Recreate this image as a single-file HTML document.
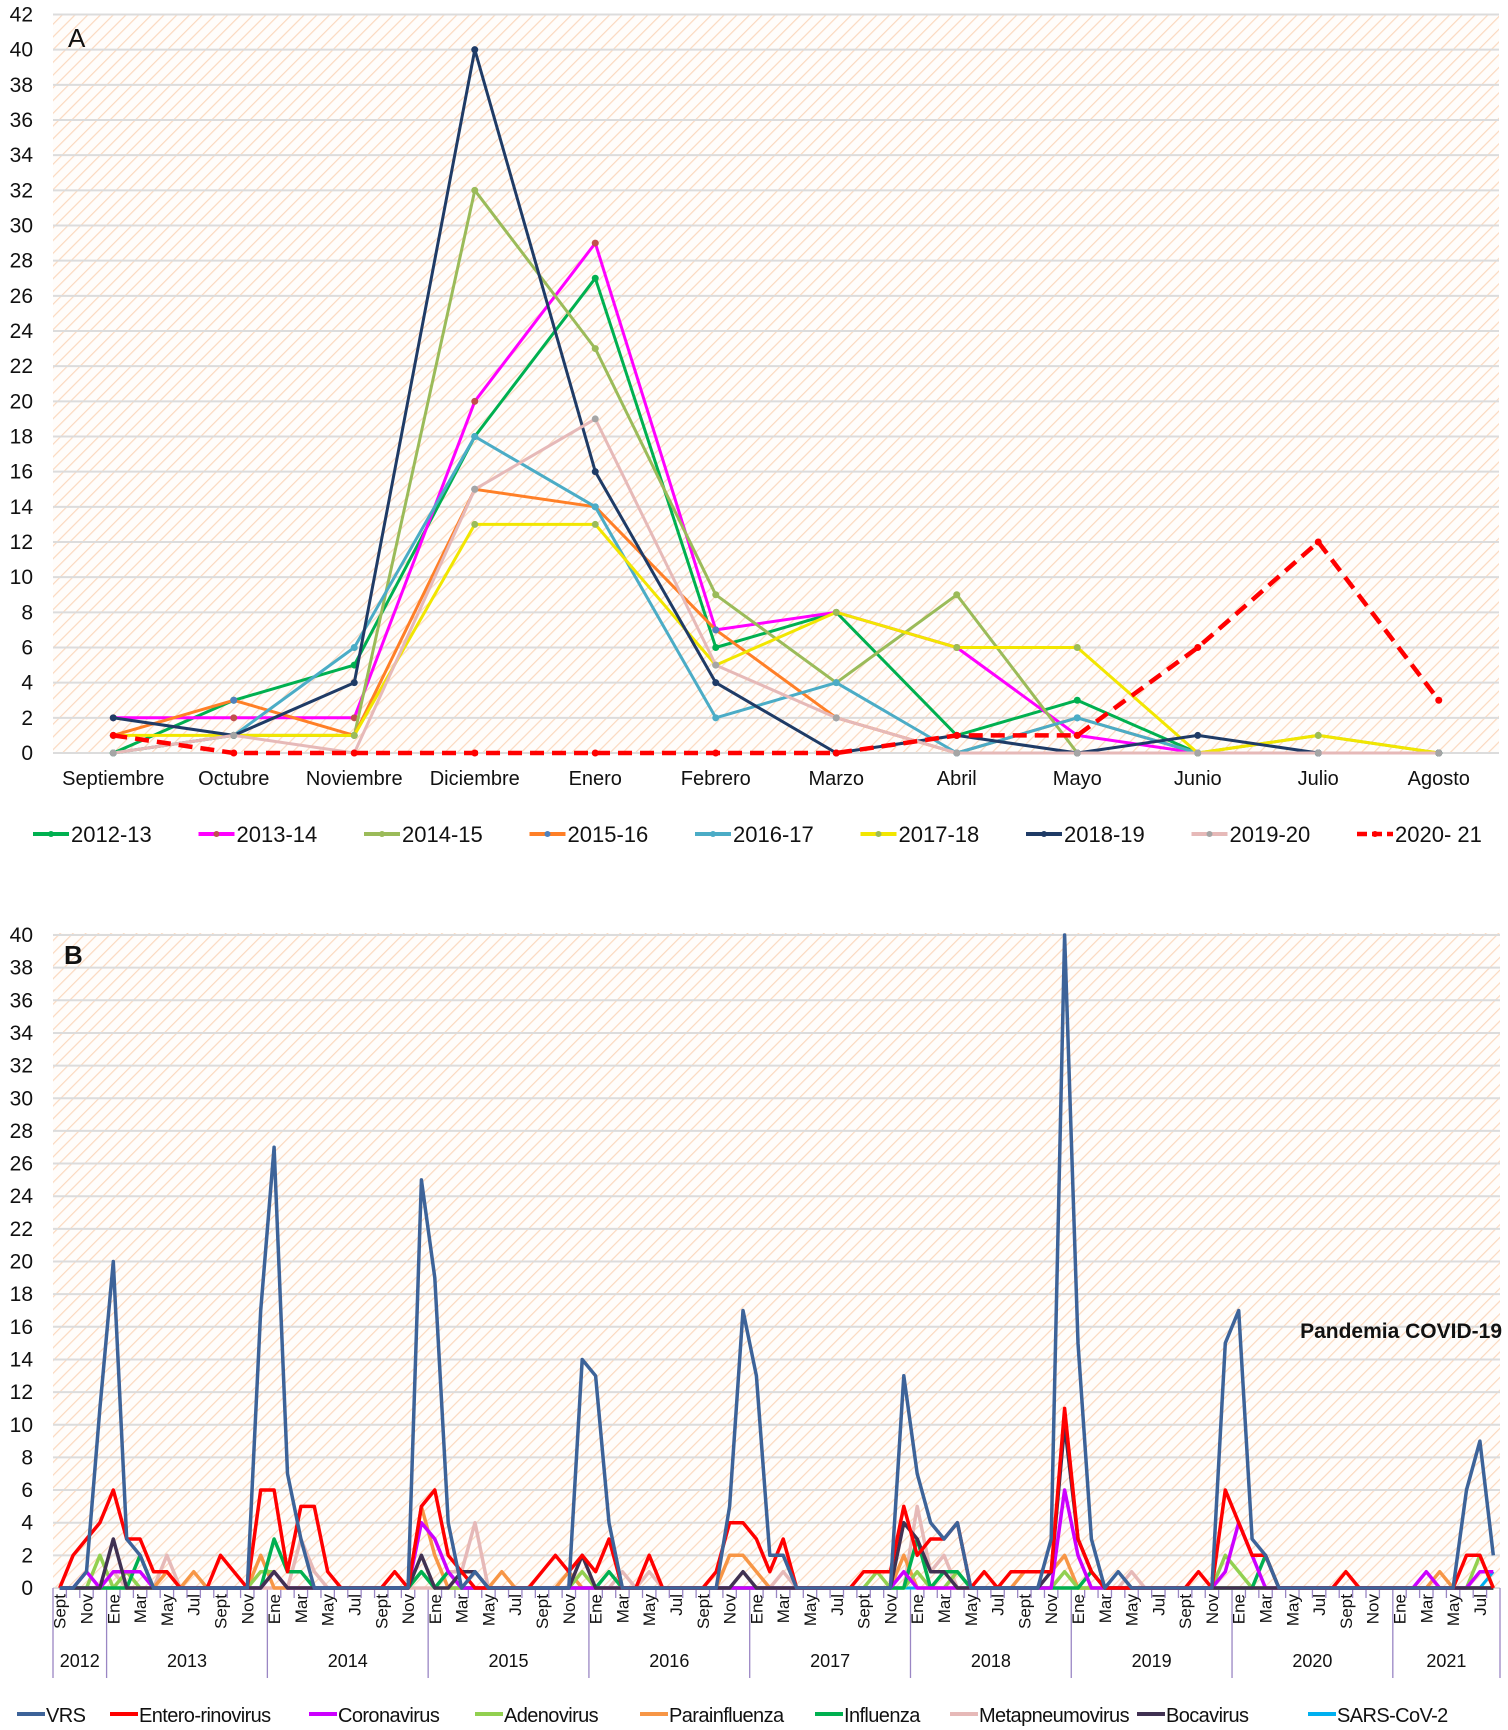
<!DOCTYPE html>
<html><head><meta charset="utf-8">
<style>
html,body{margin:0;padding:0;background:#fff;}
svg{display:block;font-family:"Liberation Sans",Arial,sans-serif;}
</style></head>
<body>
<svg id="chart" width="1508" height="1730" viewBox="0 0 1508 1730" xmlns="http://www.w3.org/2000/svg">
<defs>
<pattern id="hatch" patternUnits="userSpaceOnUse" width="9" height="9" patternTransform="rotate(45)">
<rect width="9" height="9" fill="#fffdfb"/>
<line x1="0" y1="0" x2="0" y2="9" stroke="#fbd9bf" stroke-width="2.4"/>
</pattern>
</defs>
<g id="panelA"></g>
<g id="panelB"></g>
</svg>
<script>
// ---------- Panel A data ----------
const monthsA = ["Septiembre","Octubre","Noviembre","Diciembre","Enero","Febrero","Marzo","Abril","Mayo","Junio","Julio","Agosto"];
const seasonsA = ["2012-13","2013-14","2014-15","2015-16","2016-17","2017-18","2018-19","2019-20","2020- 21"];
const s2012_13 = [0,3,5,18,27,6,8,1,3,0,0,0];
const s2013_14 = [2,2,2,20,29,7,8,6,1,0,0,0];
const s2014_15 = [0,1,1,32,23,9,4,9,0,0,1,0];
const s2015_16 = [1,3,1,15,14,7,2,0,2,0,0,0];
const s2016_17 = [0,1,6,18,14,2,4,0,2,0,0,0];
const s2017_18 = [1,1,1,13,13,5,8,6,6,0,1,0];
const s2018_19 = [2,1,4,40,16,4,0,1,0,1,0,0];
const s2019_20 = [0,1,0,15,19,5,2,0,0,0,0,0];
const s2020_21 = [1,0,0,0,0,0,0,1,1,6,12,3];
const ticksA = [0,2,4,6,8,10,12,14,16,18,20,22,24,26,28,30,32,34,36,38,40,42];

// ---------- Panel B data (monthly, Sept 2012 .. Aug 2021; 12 per row = Sept..Aug) ----------
const monthLabelsB = ["Sept","Nov","Ene","Mar","May","Jul"];
const yearsB = ["2012","2013","2014","2015","2016","2017","2018","2019","2020","2021"];
const virusesB = ["VRS","Entero-rinovirus","Coronavirus","Adenovirus","Parainfluenza","Influenza","Metapneumovirus","Bocavirus","SARS-CoV-2"];
const ticksB = [0,2,4,6,8,10,12,14,16,18,20,22,24,26,28,30,32,34,36,38,40];
const vrs = [0,0,1,11,20,3,2,0,0,0,0,0,
 0,0,0,17,27,7,3,0,0,0,0,0,
 0,0,0,25,19,4,0,1,0,0,0,0,
 0,0,0,14,13,4,0,0,0,0,0,0,
 0,0,5,17,13,2,2,0,0,0,0,0,
 0,0,0,13,7,4,3,4,0,0,0,0,
 0,0,3,40,15,3,0,1,0,0,0,0,
 0,0,0,15,17,3,2,0,0,0,0,0,
 0,0,0,0,0,0,0,0,0,6,9,2];
const entero = [0,2,3,4,6,3,3,1,1,0,0,0,
 2,1,0,6,6,1,5,5,1,0,0,0,
 0,1,0,5,6,2,1,0,0,0,0,0,
 1,2,1,2,1,3,0,0,2,0,0,0,
 0,1,4,4,3,1,3,0,0,0,0,0,
 1,1,1,5,2,3,3,4,0,1,0,1,
 1,1,1,11,3,1,0,0,0,0,0,0,
 0,1,0,6,4,2,2,0,0,0,0,0,
 1,0,0,0,0,0,0,0,0,2,2,0];
const corona = [0,0,1,0,1,1,1,0,0,0,0,0,
 0,0,0,0,1,0,0,0,0,0,0,0,
 0,0,0,4,3,1,0,0,0,0,0,0,
 0,0,0,0,0,0,0,0,0,0,0,0,
 0,0,0,0,0,0,0,0,0,0,0,0,
 0,0,0,1,0,0,0,0,0,0,0,0,
 0,0,0,6,2,0,0,0,0,0,0,0,
 0,0,0,1,4,2,0,0,0,0,0,0,
 0,0,0,0,0,0,1,0,0,0,1,1];
const adeno = [0,0,0,2,0,1,0,0,0,0,0,0,
 0,0,0,1,1,0,0,0,0,0,0,0,
 0,0,0,1,0,0,0,0,0,0,0,0,
 0,0,0,1,0,0,0,0,0,0,0,0,
 0,0,0,0,0,0,0,0,0,0,0,0,
 0,1,0,0,1,0,0,1,0,0,0,0,
 0,0,0,1,0,0,0,0,0,0,0,0,
 0,0,0,2,1,0,0,0,0,0,0,0,
 0,0,0,0,0,0,0,0,0,0,2,0];
const parainf = [0,0,0,0,0,0,0,0,1,0,1,0,
 0,0,0,2,0,0,0,0,0,0,0,0,
 0,0,0,5,2,0,0,0,0,1,0,0,
 0,0,1,0,0,0,0,0,0,0,0,0,
 0,0,2,2,1,0,0,0,0,0,0,0,
 0,0,0,2,0,0,0,0,0,0,0,0,
 1,1,1,2,0,0,0,0,0,0,0,0,
 0,0,0,0,0,0,0,0,0,0,0,0,
 0,0,0,0,0,0,0,1,0,0,0,0];
const influenza = [0,0,0,0,0,0,2,0,0,0,0,0,
 0,0,0,0,3,1,1,0,0,0,0,0,
 0,0,0,1,0,1,0,0,0,0,0,0,
 0,0,0,0,0,1,0,0,0,0,0,0,
 0,0,0,0,0,0,0,0,0,0,0,0,
 0,0,0,0,3,0,1,1,0,0,0,0,
 0,0,0,0,0,1,0,0,0,0,0,0,
 0,0,0,0,0,0,2,0,0,0,0,0,
 0,0,0,0,0,0,0,0,0,0,0,0];
const metapneumo = [0,0,0,0,1,0,0,0,2,0,0,0,
 0,0,0,0,0,0,3,1,0,0,0,0,
 0,0,0,0,0,1,1,4,0,0,0,0,
 0,0,0,0,0,0,1,0,1,0,0,0,
 0,0,0,0,0,0,1,0,0,0,0,0,
 0,0,0,0,5,1,2,0,0,0,0,0,
 0,0,0,0,0,0,0,0,1,0,0,0,
 0,0,0,0,0,0,0,0,0,0,0,0,
 0,0,0,0,0,0,0,0,0,0,0,0];
const bocavirus = [0,0,0,0,3,0,0,0,0,0,0,0,
 0,0,0,0,1,0,0,0,0,0,0,0,
 0,0,0,2,0,0,1,1,0,0,0,0,
 0,0,0,2,0,0,0,0,0,0,0,0,
 0,0,0,1,0,0,0,0,0,0,0,0,
 0,0,0,4,3,1,1,0,0,0,0,0,
 0,0,1,10,3,1,0,0,0,0,0,0,
 0,0,0,0,0,0,0,0,0,0,0,0,
 0,0,0,0,0,0,0,0,0,0,0,0];
const sarscov2 = [0,0,0,0,0,0,0,0,0,0,0,0,
 0,0,0,0,0,0,0,0,0,0,0,0,
 0,0,0,0,0,0,0,0,0,0,0,0,
 0,0,0,0,0,0,0,0,0,0,0,0,
 0,0,0,0,0,0,0,0,0,0,0,0,
 0,0,0,0,0,0,0,0,0,0,0,0,
 0,0,0,0,0,0,0,0,0,0,0,0,
 0,0,0,0,0,0,0,0,0,0,0,0,
 0,0,0,0,0,0,0,0,0,0,0,1];

const NS = "http://www.w3.org/2000/svg";
function mk(parent, tag, attrs, text){
  const el = document.createElementNS(NS, tag);
  for (const k in attrs) el.setAttribute(k, attrs[k]);
  if (text !== undefined) el.textContent = text;
  parent.appendChild(el);
  return el;
}
const FONT = '"Liberation Sans", Arial, sans-serif';
const NARROW = '"Liberation Sans Narrow", "Liberation Sans", Arial, sans-serif';

// ================= Panel A =================
(function(){
  const g = document.getElementById('panelA');
  const L = 53, R = 1499, T = 14.5, B = 753, maxY = 42;
  const n = monthsA.length, bw = (R - L) / n;
  const xA = i => L + bw * (i + 0.5);
  const yA = v => B - (v / maxY) * (B - T);

  const bg = mk(g, 'rect', {x:L, y:T, width:R-L, height:B-T, fill:'url(#hatch)'});
  
  
  ticksA.forEach(t => {
    const gl = mk(g, 'line', {x1:L, x2:R, y1:yA(t), y2:yA(t), stroke:'#dcdcdc', 'stroke-width':2});
    
    
    const tl = mk(g, 'text', {x:33, y:yA(t)+7, 'text-anchor':'end', 'font-size':21, fill:'#111', 'font-family':FONT}, String(t));
    
    
  });
  monthsA.forEach((m, i) => {
    const t = mk(g, 'text', {x:xA(i), y:785, 'text-anchor':'middle', 'font-size':20, fill:'#111', 'font-family':NARROW}, m);
    
    
  });
  const lbl = mk(g, 'text', {x:68, y:47, 'font-size':26, fill:'#111', 'font-family':FONT}, 'A');
  
  

  const series = [s2012_13, s2013_14, s2014_15, s2015_16, s2016_17, s2017_18, s2018_19, s2019_20, s2020_21];
  const colors = ['#00b050','#ff00ff','#9bbb59','#ff7f27','#4bacc6','#f2e600','#1f3b66','#e6b9b8','#ff0000'];
  const markers = ['#00b050','#c0504d','#9bbb59','#4f81bd','#4bacc6','#9bbb59','#1f3b66','#a5a5a5','#ff0000'];
  series.forEach((vals, s) => {
    const dashed = s === 8;
    const pts = vals.map((v, i) => xA(i).toFixed(1) + ',' + yA(v).toFixed(1)).join(' ');
    const pl = mk(g, 'polyline', {points:pts, fill:'none', stroke:colors[s], 'stroke-width':dashed?4.5:3, 'stroke-dasharray':dashed?'14,8':'none', 'stroke-linejoin':'round'});
    
    
    vals.forEach((v, i) => {
      const c = mk(g, 'circle', {cx:xA(i), cy:yA(v), r:3.5, fill:markers[s]});
      
      
    });
    const lx = 33 + s * 165.5, ly = 834;
    const lg = mk(g, 'g', {});
    
    
    mk(lg, 'line', {x1:lx, x2:lx+36, y1:ly, y2:ly, stroke:colors[s], 'stroke-width':dashed?4.5:4, 'stroke-dasharray':dashed?'10,5':'none'});
    mk(lg, 'circle', {cx:lx+18, cy:ly, r:3, fill:markers[s]});
    mk(lg, 'text', {x:lx+38, y:ly+8, 'font-size':22, fill:'#111', 'font-family':NARROW}, seasonsA[s]);
  });
})();

// ================= Panel B =================
(function(){
  const g = document.getElementById('panelB');
  const L = 53, R = 1500, T = 935, B = 1588, maxY = 40;
  const bw = (R - L) / 108;
  const xB = i => L + bw * (i + 0.5);
  const yB = v => B - (v / maxY) * (B - T);

  const bg = mk(g, 'rect', {x:L, y:T-2, width:R-L, height:B-T+2, fill:'url(#hatch)'});
  
  
  ticksB.forEach(t => {
    const gl = mk(g, 'line', {x1:L, x2:R, y1:yB(t), y2:yB(t), stroke:'#dcdcdc', 'stroke-width':2});
    
    
    const tl = mk(g, 'text', {x:33, y:yB(t)+7, 'text-anchor':'end', 'font-size':21, fill:'#111', 'font-family':FONT}, String(t));
    
    
  });
  const lbl = mk(g, 'text', {x:64, y:964, 'font-size':26, 'font-weight':'bold', fill:'#111', 'font-family':FONT}, 'B');
  
  
  const cov = mk(g, 'text', {x:1502, y:1338, 'text-anchor':'end', 'font-size':21, 'font-weight':'bold', fill:'#111', 'font-family':FONT}, 'Pandemia COVID-19');
  
  

  for (let i = 0; i <= 108; i++) {
    const x = L + bw * i;
    const isYear = (i === 0) || ((i - 4) % 12 === 0) || i === 108;
    mk(g, 'line', {x1:x, x2:x, y1:B, y2:isYear?1678:1598, stroke:'#9a86c4', 'stroke-width':1.3});
  }
  for (let i = 0; i < 108; i += 2) {
    const x = xB(i) + 6;
    const t = mk(g, 'text', {x:x, y:1594, transform:`rotate(-90 ${x} 1594)`, 'text-anchor':'end', 'font-size':17, fill:'#111', 'font-family':NARROW}, monthLabelsB[(i/2) % 6]);
    
    
  }
  yearsB.forEach((yr, k) => {
    const s = k === 0 ? 0 : 4 + (k - 1) * 12;
    const e = k === 0 ? 4 : Math.min(s + 12, 108);
    const cx = L + bw * (s + e) / 2;
    const t = mk(g, 'text', {x:cx, y:1667, 'text-anchor':'middle', 'font-size':18, fill:'#111', 'font-family':NARROW}, yr);
    
    
  });

  const series = [vrs, entero, corona, adeno, parainf, influenza, metapneumo, bocavirus, sarscov2];
  const colors = ['#3d6399','#ff0000','#cc00ff','#92d050','#f79646','#00b050','#e6b9b8','#403152','#00b0f0'];
  const drawOrder = [8,6,4,3,5,2,7,1,0];
  drawOrder.forEach(s => {
    const vals = series[s];
    const pts = vals.map((v, i) => xB(i).toFixed(1) + ',' + yB(v).toFixed(1)).join(' ');
    const pl = mk(g, 'polyline', {points:pts, fill:'none', stroke:colors[s], 'stroke-width':s===8?3:3.5, 'stroke-linejoin':'round'});
    
    
  });
  const legX = [17, 110, 309, 475, 640, 815, 950, 1137, 1308];
  virusesB.forEach((name, s) => {
    const lx = legX[s], ly = 1714;
    const lg = mk(g, 'g', {});
    
    
    mk(lg, 'line', {x1:lx, x2:lx+28, y1:ly, y2:ly, stroke:colors[s], 'stroke-width':4});
    mk(lg, 'text', {x:lx+29, y:ly+8, 'font-size':20, 'letter-spacing':'-0.6', fill:'#111', 'font-family':NARROW}, name);
  });
})();
</script>
</body></html>
